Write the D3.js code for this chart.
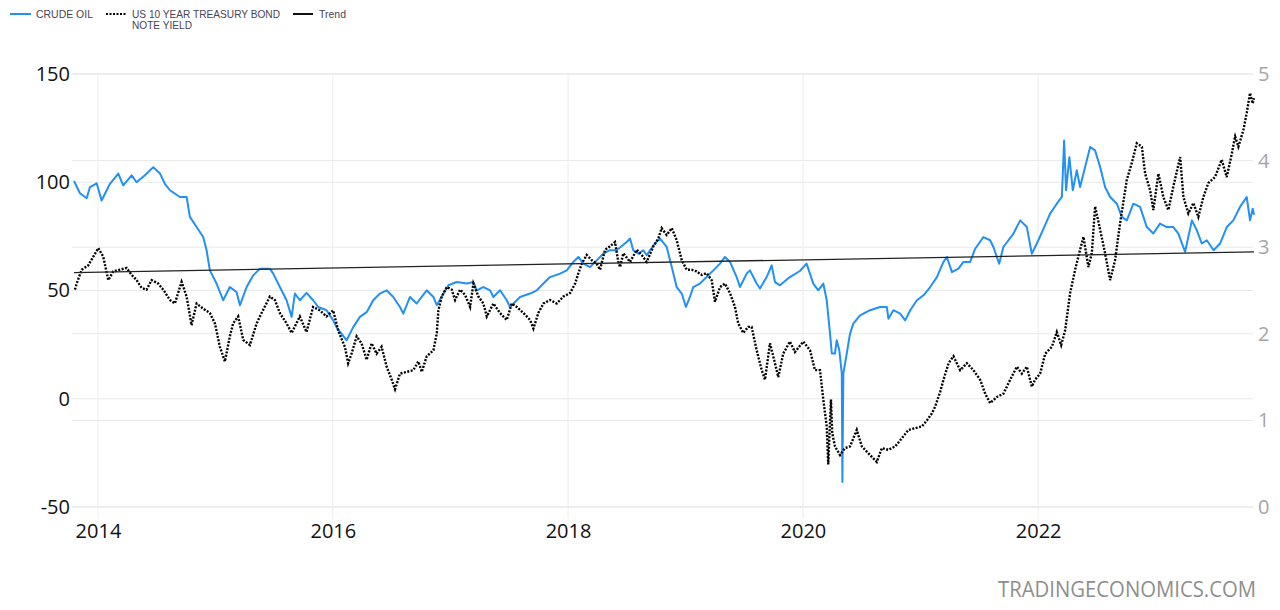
<!DOCTYPE html>
<html><head><meta charset="utf-8">
<script src="https://cdn.jsdelivr.net/npm/d3@7"></script>
<style>body{margin:0;background:#fff}svg{display:block}</style>
</head><body>
<svg id="chart" width="1280" height="610"></svg>
<script>
// ---- data (dates as decimal years) ----
const legendLabels = ["CRUDE OIL", "US 10 YEAR TREASURY BOND", "NOTE YIELD", "Trend"];
const yearTicks = [2014, 2016, 2018, 2020, 2022];
const leftTicks = [-50, 0, 50, 100, 150];
const rightTicks = [0, 1, 2, 3, 4, 5];
const watermark = "TRADINGECONOMICS.COM";

// Crude oil (USD/bbl), left axis
const oil = [
[2013.796,100.6],[2013.847,94.9],[2013.904,92.6],[2013.932,97.8],[2013.989,99.5],[2014.031,91.6],
[2014.102,99.3],[2014.173,104],[2014.215,98.6],[2014.287,103.2],[2014.329,100],[2014.400,103.2],
[2014.471,107],[2014.528,104],[2014.570,99.3],[2014.613,96.3],[2014.698,93.2],[2014.755,93.2],
[2014.783,84],[2014.840,79.3],[2014.896,74.7],[2014.925,68.6],[2014.953,59.3],[2015.010,53.2],
[2015.066,45.5],[2015.123,51.6],[2015.180,49.3],[2015.209,43.2],[2015.266,51.6],[2015.322,57],
[2015.379,60.1],[2015.464,60.1],[2015.492,57.8],[2015.549,51.6],[2015.606,45.5],[2015.649,37.8],
[2015.677,48.6],[2015.719,45.5],[2015.776,48.9],[2015.832,45.5],[2015.875,42.4],[2015.946,40.9],
[2016.003,36.2],[2016.031,33.1],[2016.117,27],[2016.173,33.1],[2016.230,37.8],[2016.287,40],
[2016.343,45.5],[2016.400,48.6],[2016.457,50.1],[2016.513,47],[2016.570,42.4],[2016.598,39.3],
[2016.655,47],[2016.712,44],[2016.797,50.1],[2016.854,47],[2016.883,43.2],[2016.939,48.6],
[2016.981,52.4],[2017.053,53.9],[2017.138,53.2],[2017.194,53.9],[2017.223,50.1],[2017.279,51.6],
[2017.336,50.1],[2017.364,47],[2017.421,50.1],[2017.478,45.5],[2017.506,42.4],[2017.591,47],
[2017.677,48.6],[2017.734,50.1],[2017.790,53.2],[2017.847,56.2],[2017.932,57.8],[2017.989,59.3],
[2018.045,63.2],[2018.088,65.5],[2018.130,62.4],[2018.187,60.8],[2018.244,63.9],[2018.300,67],
[2018.357,68.6],[2018.414,68.6],[2018.499,72.4],[2018.528,74],[2018.555,68.6],[2018.598,67],
[2018.641,68.6],[2018.670,66.3],[2018.698,68.6],[2018.740,71.7],[2018.783,74],[2018.840,70.1],
[2018.883,60.8],[2018.925,51.6],[2018.968,48.6],[2019.004,42.4],[2019.038,47],[2019.066,51.6],
[2019.123,53.2],[2019.180,56.2],[2019.237,59.3],[2019.294,62.4],[2019.336,65.5],[2019.379,63.2],
[2019.436,56.2],[2019.464,51.6],[2019.521,57.8],[2019.549,59.3],[2019.606,53.2],[2019.634,50.9],
[2019.691,56.2],[2019.734,61.6],[2019.762,53.9],[2019.804,52.4],[2019.889,56.2],[2019.974,59],
[2020.031,62.4],[2020.088,53.2],[2020.130,50.1],[2020.173,53.2],[2020.202,45.5],[2020.230,30.1],
[2020.245,20.9],[2020.272,20.9],[2020.287,27],[2020.309,22.4],[2020.330,11.6],[2020.335,-38.4],
[2020.343,11.6],[2020.372,20.9],[2020.400,30.1],[2020.428,34.7],[2020.485,38.5],[2020.570,40.9],
[2020.655,42.4],[2020.712,42.4],[2020.726,37],[2020.768,40.9],[2020.826,39.3],[2020.868,36.2],
[2020.911,40.9],[2020.968,45.5],[2021.024,47.8],[2021.081,51.6],[2021.138,56.2],[2021.194,63.2],
[2021.223,65.5],[2021.266,58.5],[2021.321,60.1],[2021.364,63.2],[2021.421,63.2],[2021.464,69.3],
[2021.534,74.7],[2021.591,73.2],[2021.619,70.1],[2021.668,62.4],[2021.704,70.1],[2021.790,76.3],
[2021.847,82.4],[2021.904,79.3],[2021.946,67],[2021.989,71.7],[2022.045,78.5],[2022.102,85.5],
[2022.159,90.1],[2022.202,93.2],[2022.221,119.3],[2022.238,96.3],[2022.266,111.6],[2022.295,96.3],
[2022.329,105.5],[2022.357,97.8],[2022.400,107],[2022.443,116.3],[2022.485,114.7],[2022.528,107],
[2022.570,97.8],[2022.613,93.2],[2022.670,90.1],[2022.712,84],[2022.755,82.4],[2022.811,90.1],
[2022.868,88.6],[2022.925,79.3],[2022.981,76.3],[2023.038,80.9],[2023.095,79.3],[2023.151,79.3],
[2023.194,76.3],[2023.251,67.8],[2023.309,82.4],[2023.351,77.8],[2023.394,71.7],[2023.436,73.2],
[2023.494,68.6],[2023.549,71.7],[2023.606,79.3],[2023.662,82.4],[2023.719,88.6],[2023.776,93.2],
[2023.804,82.4],[2023.827,87.8],[2023.838,85]
];

// US 10Y Treasury yield (%), right axis
const yld = [
[2013.804,2.51],[2013.819,2.58],[2013.861,2.74],[2013.917,2.79],[2013.960,2.89],[2014.003,2.99],
[2014.045,2.89],[2014.088,2.62],[2014.130,2.72],[2014.187,2.74],[2014.244,2.76],[2014.287,2.68],
[2014.329,2.62],[2014.372,2.53],[2014.414,2.51],[2014.457,2.62],[2014.513,2.58],[2014.556,2.51],
[2014.613,2.39],[2014.655,2.35],[2014.712,2.60],[2014.755,2.43],[2014.797,2.10],[2014.840,2.35],
[2014.896,2.29],[2014.953,2.24],[2014.996,2.12],[2015.038,1.85],[2015.081,1.68],[2015.123,1.97],
[2015.151,2.12],[2015.194,2.20],[2015.237,1.93],[2015.294,1.87],[2015.351,2.12],[2015.393,2.24],
[2015.464,2.43],[2015.506,2.39],[2015.549,2.24],[2015.606,2.12],[2015.649,2.01],[2015.719,2.20],
[2015.776,2.02],[2015.832,2.31],[2015.889,2.27],[2015.946,2.20],[2016.003,2.27],[2016.045,2.04],
[2016.102,1.85],[2016.130,1.66],[2016.159,1.77],[2016.202,1.97],[2016.244,1.89],[2016.287,1.70],
[2016.329,1.89],[2016.372,1.77],[2016.414,1.85],[2016.457,1.62],[2016.500,1.47],[2016.528,1.36],
[2016.570,1.54],[2016.627,1.56],[2016.683,1.58],[2016.726,1.68],[2016.755,1.56],[2016.797,1.74],
[2016.854,1.81],[2016.883,2.01],[2016.896,2.27],[2016.925,2.43],[2016.968,2.54],[2017.010,2.51],
[2017.038,2.39],[2017.081,2.51],[2017.123,2.45],[2017.166,2.31],[2017.194,2.58],[2017.237,2.43],
[2017.279,2.35],[2017.308,2.20],[2017.364,2.35],[2017.421,2.24],[2017.478,2.16],[2017.521,2.35],
[2017.563,2.31],[2017.620,2.24],[2017.677,2.16],[2017.705,2.06],[2017.747,2.24],[2017.790,2.35],
[2017.847,2.39],[2017.904,2.35],[2017.960,2.43],[2018.017,2.47],[2018.060,2.58],[2018.088,2.70],
[2018.117,2.81],[2018.159,2.91],[2018.202,2.85],[2018.244,2.81],[2018.272,2.74],[2018.315,2.97],
[2018.357,3.01],[2018.400,3.06],[2018.428,2.83],[2018.443,2.77],[2018.471,2.93],[2018.528,2.83],
[2018.585,2.97],[2018.627,2.91],[2018.670,2.83],[2018.726,3.01],[2018.769,3.10],[2018.797,3.22],
[2018.840,3.14],[2018.883,3.22],[2018.925,3.08],[2018.968,2.85],[2019.010,2.74],[2019.053,2.74],
[2019.095,2.72],[2019.138,2.68],[2019.180,2.70],[2019.223,2.62],[2019.251,2.37],[2019.294,2.54],
[2019.336,2.58],[2019.379,2.47],[2019.421,2.31],[2019.449,2.12],[2019.492,2.01],[2019.534,2.08],
[2019.563,2.08],[2019.606,1.81],[2019.649,1.58],[2019.677,1.47],[2019.719,1.89],[2019.762,1.66],
[2019.790,1.50],[2019.832,1.77],[2019.889,1.91],[2019.932,1.79],[2020.003,1.91],[2020.060,1.81],
[2020.102,1.58],[2020.145,1.58],[2020.173,1.24],[2020.202,0.93],[2020.215,0.49],[2020.238,1.24],
[2020.249,0.85],[2020.272,0.70],[2020.315,0.60],[2020.357,0.68],[2020.400,0.70],[2020.457,0.89],
[2020.500,0.70],[2020.556,0.62],[2020.627,0.52],[2020.670,0.68],[2020.726,0.66],[2020.783,0.70],
[2020.826,0.77],[2020.896,0.89],[2020.953,0.91],[2021.010,0.93],[2021.053,1.00],[2021.095,1.08],
[2021.123,1.16],[2021.166,1.33],[2021.194,1.47],[2021.237,1.66],[2021.279,1.74],[2021.336,1.58],
[2021.393,1.66],[2021.449,1.58],[2021.506,1.47],[2021.549,1.31],[2021.591,1.20],[2021.649,1.27],
[2021.705,1.31],[2021.762,1.47],[2021.819,1.62],[2021.861,1.54],[2021.904,1.62],[2021.946,1.39],
[2021.974,1.47],[2022.017,1.54],[2022.060,1.77],[2022.117,1.85],[2022.159,2.02],[2022.196,1.87],
[2022.230,2.04],[2022.272,2.47],[2022.315,2.74],[2022.357,2.97],[2022.386,3.12],[2022.428,2.77],
[2022.457,2.93],[2022.485,3.47],[2022.528,3.20],[2022.570,2.93],[2022.613,2.62],[2022.655,2.85],
[2022.698,3.28],[2022.755,3.78],[2022.797,3.97],[2022.840,4.20],[2022.883,4.16],[2022.911,3.85],
[2022.953,3.66],[2022.981,3.43],[2023.024,3.85],[2023.066,3.58],[2023.109,3.43],[2023.151,3.70],
[2023.209,4.04],[2023.237,3.58],[2023.279,3.39],[2023.322,3.51],[2023.364,3.35],[2023.407,3.58],
[2023.449,3.74],[2023.506,3.81],[2023.563,4.01],[2023.606,3.81],[2023.649,4.08],[2023.677,4.28],
[2023.705,4.16],[2023.747,4.35],[2023.776,4.55],[2023.804,4.78],[2023.827,4.66],[2023.838,4.72]
];

// Linear trend (left axis)
const trend = [[2013.796, 58.3], [2023.838, 67.8]];

(function () {
function toDate(t) {
  const y = Math.floor(t);
  const a = Date.UTC(y, 0, 1), b = Date.UTC(y + 1, 0, 1);
  return new Date(a + (t - y) * (b - a));
}

const svg = d3.select("#chart");
const pL = 72, pR = 1256, pT = 74, pB = 507;
const FONT = "'Open Sans', 'Noto Sans', sans-serif";

const x = d3.scaleTime().domain([toDate(2013.779), toDate(2023.855)]).range([pL, pR]);
const yL = d3.scaleLinear().domain([-50, 150]).range([pB, pT]);
const yR = d3.scaleLinear().domain([0, 5]).range([pB, pT]);

// gridlines
const grid = svg.append("g");
leftTicks.forEach(v => grid.append("line")
  .attr("x1", pL).attr("x2", 1253).attr("y1", yL(v)).attr("y2", yL(v))
  .attr("stroke", "#e8e8e8").attr("stroke-width", 1));
rightTicks.forEach(v => grid.append("line")
  .attr("x1", pL).attr("x2", 1253).attr("y1", yR(v)).attr("y2", yR(v))
  .attr("stroke", "#e8e8e8").attr("stroke-width", 1));
yearTicks.forEach(t => grid.append("line")
  .attr("x1", x(toDate(t))).attr("x2", x(toDate(t))).attr("y1", pT).attr("y2", 519)
  .attr("stroke", "#ececec").attr("stroke-width", 1));

// axes
const axL = svg.append("g").attr("transform", `translate(${pL},0)`)
  .call(d3.axisLeft(yL).tickValues(leftTicks).tickFormat(d => String(d)).tickSize(0).tickPadding(2));
axL.select(".domain").remove();
axL.selectAll("text").attr("font-family", FONT).attr("font-size", 20).attr("fill", "#111");

const axR = svg.append("g").attr("transform", `translate(${pR},0)`)
  .call(d3.axisRight(yR).tickValues(rightTicks).tickFormat(d => String(d)).tickSize(0).tickPadding(2));
axR.select(".domain").remove();
axR.selectAll("text").attr("font-family", FONT).attr("font-size", 20).attr("fill", "#a5a5a5");

const axB = svg.append("g").attr("transform", `translate(0,519)`)
  .call(d3.axisBottom(x).tickValues(yearTicks.map(toDate)).tickFormat(d3.timeFormat("%Y")).tickSize(0).tickPadding(5));
axB.select(".domain").remove();
axB.selectAll("text").attr("font-family", FONT).attr("font-size", 20).attr("fill", "#111");

// clip
svg.append("clipPath").attr("id", "clip").append("rect")
  .attr("x", pL).attr("y", 60).attr("width", pR - pL).attr("height", 470);

const plot = svg.append("g").attr("clip-path", "url(#clip)");
const lineL = d3.line().x(d => x(toDate(d[0]))).y(d => yL(d[1]));
const lineR = d3.line().x(d => x(toDate(d[0]))).y(d => yR(d[1]));

const BLUE = "#2290f4";
plot.append("path").datum(oil).attr("d", lineL)
  .attr("fill", "none").attr("stroke", BLUE).attr("stroke-width", 2).attr("stroke-linejoin", "round");
plot.append("path").datum(yld).attr("d", lineR)
  .attr("fill", "none").attr("stroke", "#000").attr("stroke-width", 2.4)
  .attr("stroke-dasharray", "2,1.5");
plot.append("path").datum(trend).attr("d", lineL)
  .attr("fill", "none").attr("stroke", "#222").attr("stroke-width", 1.3);

// legend
const LF = "'Liberation Sans', Arial, sans-serif";
const lg = svg.append("g");
const LTXT = "#4a4258";
lg.append("line").attr("x1", 10).attr("x2", 31).attr("y1", 14).attr("y2", 14).attr("stroke", BLUE).attr("stroke-width", 2);
lg.append("text").attr("x", 36).attr("y", 18).attr("textLength", 57).text(legendLabels[0]);
lg.append("line").attr("x1", 106).attr("x2", 127).attr("y1", 14).attr("y2", 14).attr("stroke", "#000").attr("stroke-width", 2).attr("stroke-dasharray", "2,1.5");
lg.append("text").attr("x", 132).attr("y", 18).attr("textLength", 148).text(legendLabels[1]);
lg.append("text").attr("x", 132).attr("y", 29).attr("textLength", 60).text(legendLabels[2]);
lg.append("line").attr("x1", 293).attr("x2", 313).attr("y1", 14).attr("y2", 14).attr("stroke", "#111").attr("stroke-width", 2);
lg.append("text").attr("x", 319).attr("y", 18).attr("textLength", 27).text(legendLabels[3]);
lg.selectAll("text").attr("font-family", LF).attr("font-size", 11).attr("fill", LTXT)
  .attr("lengthAdjust", "spacingAndGlyphs");

// watermark
svg.append("text").attr("x", 1256).attr("y", 597).attr("text-anchor", "end")
  .attr("font-family", FONT).attr("font-size", 21).attr("fill", "#8e8e8e")
  .attr("textLength", 258).attr("lengthAdjust", "spacingAndGlyphs")
  .text(watermark);
})();
</script>
</body></html>
